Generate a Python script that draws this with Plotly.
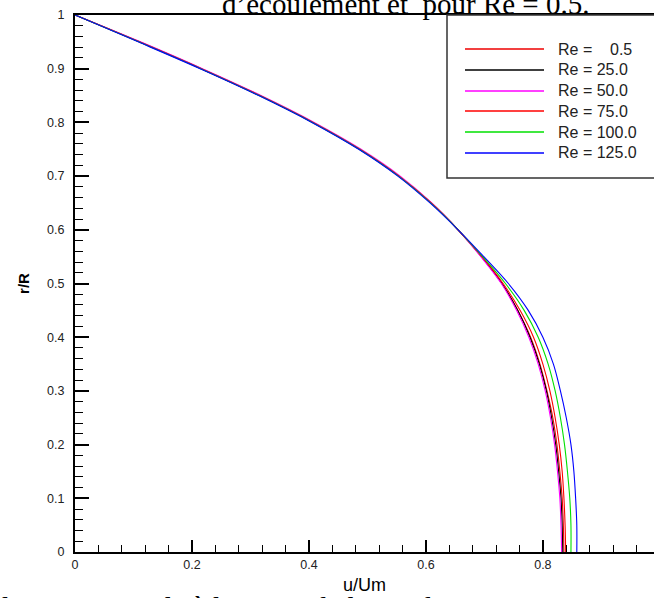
import plotly.graph_objects as go

# Radial positions r/R at which the velocity profiles are sampled
r_over_R = [1.0, 0.95, 0.9, 0.85, 0.8, 0.75, 0.7, 0.65, 0.6, 0.55, 0.5,
            0.45, 0.4, 0.35, 0.3, 0.25, 0.2, 0.15, 0.1, 0.05, 0.0]

# Axial velocity u/Um for each Reynolds number
u_re_0_5 = [0.000, 0.110, 0.216, 0.316, 0.407, 0.487, 0.554, 0.609, 0.655, 0.695, 0.730,
            0.757, 0.779, 0.795, 0.807, 0.817, 0.824, 0.829, 0.833, 0.835, 0.836]
u_re_25 = [0.000, 0.110, 0.216, 0.316, 0.407, 0.487, 0.554, 0.609, 0.655, 0.695, 0.730,
           0.757, 0.778, 0.794, 0.806, 0.815, 0.822, 0.827, 0.831, 0.833, 0.834]
u_re_50 = [0.000, 0.112, 0.218, 0.318, 0.409, 0.489, 0.556, 0.610, 0.655, 0.694, 0.729,
           0.755, 0.776, 0.792, 0.804, 0.813, 0.820, 0.825, 0.829, 0.831, 0.832]
u_re_75 = [0.000, 0.110, 0.216, 0.316, 0.407, 0.487, 0.554, 0.609, 0.655, 0.696, 0.732,
           0.761, 0.784, 0.800, 0.812, 0.821, 0.828, 0.833, 0.836, 0.838, 0.839]
u_re_100 = [0.000, 0.109, 0.215, 0.315, 0.406, 0.486, 0.553, 0.608, 0.655, 0.697, 0.736,
            0.768, 0.792, 0.809, 0.821, 0.830, 0.837, 0.842, 0.846, 0.848, 0.848]
u_re_125 = [0.000, 0.108, 0.214, 0.314, 0.405, 0.485, 0.552, 0.607, 0.655, 0.699, 0.741,
            0.775, 0.800, 0.818, 0.830, 0.840, 0.848, 0.853, 0.856, 0.858, 0.858]

series_names = ["Re =\u00a0\u00a0\u00a0\u00a00.5", "Re = 25.0", "Re = 50.0",
                "Re = 75.0", "Re = 100.0", "Re = 125.0"]
series_values = [u_re_0_5, u_re_25, u_re_50, u_re_75, u_re_100, u_re_125]
series_colors = ["#ee0000", "#000000", "#ff00ff", "#ff0000", "#00e000", "#0000ff"]

x_tick_vals = [0, 0.2, 0.4, 0.6, 0.8]
x_tick_text = ["0", "0.2", "0.4", "0.6", "0.8"]
y_tick_vals = [0, 0.1, 0.2, 0.3, 0.4, 0.5, 0.6, 0.7, 0.8, 0.9, 1]
y_tick_text = ["0", "0.1", "0.2", "0.3", "0.4", "0.5", "0.6", "0.7", "0.8", "0.9", "1"]

W, H = 654, 598
ML, MR, MT, MB = 75, 0, 15, 46
PW, PH = W - ML - MR, H - MT - MB


def px_x(px):
    return (px - ML) / PW


def px_y(py):
    return (H - MB - py) / PH


fig = go.Figure()
for name, u, color in zip(series_names, series_values, series_colors):
    fig.add_trace(go.Scatter(
        x=u, y=r_over_R, mode="lines", name=name,
        line=dict(color=color, width=1.1, shape="spline", smoothing=1.0),
        showlegend=False,
    ))

# Boxed legend in the upper right corner, with long line samples
shapes = [dict(type="rect", xref="paper", yref="paper",
               x0=px_x(447), x1=px_x(700), y0=px_y(178), y1=px_y(15),
               line=dict(color="#333333", width=1.5), fillcolor="white", layer="above")]
annotations = []
for i, (name, color) in enumerate(zip(series_names, series_colors)):
    row_px = round(49 + 20.8 * i)
    shapes.append(dict(type="line", xref="paper", yref="paper",
                       x0=px_x(465), x1=px_x(544), y0=px_y(row_px), y1=px_y(row_px),
                       line=dict(color=color, width=1.5), layer="above"))
    annotations.append(dict(xref="paper", yref="paper", x=px_x(556), y=px_y(row_px),
                            xanchor="left", yanchor="middle", showarrow=False,
                            text=name, font=dict(family="Liberation Sans", size=16, color="#222222")))

# Caption fragments above and below the frame
annotations.append(dict(xref="paper", yref="paper", x=px_x(405), y=px_y(3.5),
                        xanchor="center", yanchor="middle", showarrow=False,
                        text="d\u2019\u00e9coulement et \u00a0pour Re = 0.5.",
                        font=dict(family="Liberation Serif", size=29, color="black")))
annotations.append(dict(xref="paper", yref="paper", x=px_x(0), y=px_y(607),
                        xanchor="left", yanchor="middle", showarrow=False,
                        text="la vitesse axiale \u00e0 la sortie de la conduite pour Re = 0.5.",
                        font=dict(family="Liberation Serif", size=29, color="black")))

fig.update_layout(
    width=W, height=H,
    margin=dict(l=ML, r=MR, t=MT, b=MB, pad=0),
    paper_bgcolor="white", plot_bgcolor="white",
    font=dict(family="Liberation Sans", color="#222222"),
    shapes=shapes, annotations=annotations,
    showlegend=False,
)
fig.update_xaxes(
    range=[0, 0.99], autorange=False,
    tickvals=x_tick_vals, ticktext=x_tick_text,
    ticks="inside", ticklen=12, tickwidth=2, tickcolor="black",
    minor=dict(dtick=0.04, tick0=0, ticks="inside", ticklen=7, tickwidth=1, tickcolor="black"),
    showline=True, linecolor="black", linewidth=2, mirror=True,
    showgrid=False, zeroline=False,
    tickfont=dict(size=12.5, family="Liberation Sans", color="#222222"),
    title=dict(text="u/Um", font=dict(size=18, family="Liberation Sans", color="black"), standoff=7),
    automargin=False,
)
fig.update_yaxes(
    range=[0, 1], autorange=False,
    tickvals=y_tick_vals, ticktext=y_tick_text,
    ticks="inside", ticklen=14, tickwidth=2, tickcolor="black",
    minor=dict(dtick=0.02, tick0=0, ticks="inside", ticklen=8, tickwidth=1, tickcolor="black"),
    showline=True, linecolor="black", linewidth=2, mirror=False,
    showgrid=False, zeroline=False,
    tickfont=dict(size=12.5, family="Liberation Sans", color="#222222"),
    ticklabelstandoff=6,
    title=dict(text="<b>r/R</b>", font=dict(size=15, family="Liberation Sans", color="black"), standoff=14),
    automargin=False,
)

fig.write_html("out.html")
